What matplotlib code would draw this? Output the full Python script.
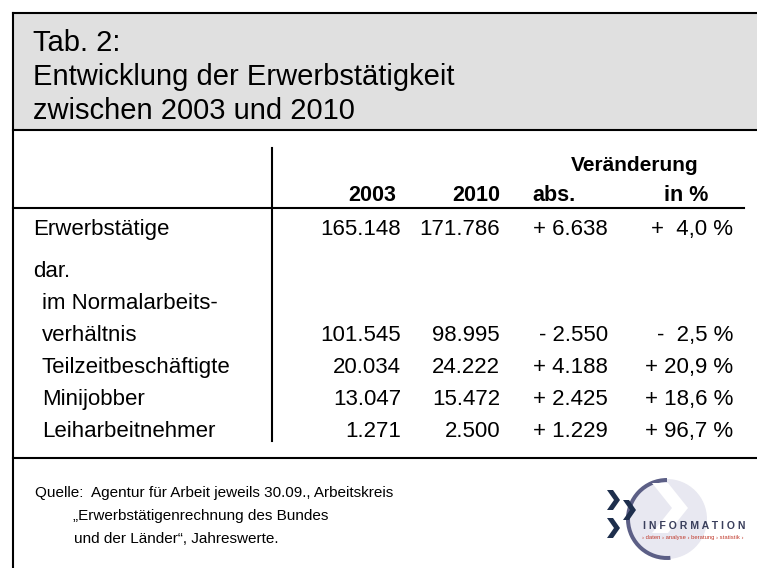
import matplotlib
matplotlib.use("Agg")
import matplotlib.pyplot as plt
from matplotlib.patches import Rectangle, Circle, Wedge, Polygon

# Table content
title_lines = ["Tab. 2:", "Entwicklung der Erwerbstätigkeit", "zwischen 2003 und 2010"]
col_headers = ["2003", "2010", "abs.", "in %"]
group_header = "Veränderung"
row_labels = ["Erwerbstätige", "dar.", "im Normalarbeits-", "verhältnis",
              "Teilzeitbeschäftigte", "Minijobber", "Leiharbeitnehmer"]
row_indent = [False, False, True, True, True, True, True]
values_2003 = ["165.148", "", "", "101.545", "20.034", "13.047", "1.271"]
values_2010 = ["171.786", "", "", "98.995", "24.222", "15.472", "2.500"]
change_abs = ["+ 6.638", "", "", "- 2.550", "+ 4.188", "+ 2.425", "+ 1.229"]
change_pct = ["+  4,0 %", "", "", "-  2,5 %", "+ 20,9 %", "+ 18,6 %", "+ 96,7 %"]
source_lines = ["Quelle:  Agentur für Arbeit jeweils 30.09., Arbeitskreis",
                "„Erwerbstätigenrechnung des Bundes",
                "und der Länder“, Jahreswerte."]

plt.rcParams['font.family'] = ['Liberation Sans', 'DejaVu Sans']

fig = plt.figure(figsize=(7.57, 5.68), dpi=100)
ax = fig.add_axes([0, 0, 1, 1])
ax.set_xlim(0, 757)
ax.set_ylim(568, 0)
ax.axis('off')

# frame and grey title band
ax.add_patch(Rectangle((13, 13), 760, 117, facecolor='#e0e0e0', edgecolor='none'))
ax.plot([13, 757], [13, 13], color='black', lw=1.5)
ax.plot([13, 13], [13, 568], color='black', lw=1.5)
ax.plot([13, 757], [130, 130], color='black', lw=1.5)
ax.plot([13, 757], [458, 458], color='black', lw=1.5)

for i, t in enumerate(title_lines):
    ax.text(33, 51 + 34 * i, t, fontsize=21, va='baseline', ha='left')

# table lines
ax.plot([272, 272], [148, 441], color='black', lw=1.5)
ax.plot([13, 744], [208, 208], color='black', lw=1.5)

# headers
ax.text(698, 171, group_header, fontsize=15, fontweight='bold', ha='right', va='baseline')
col_right = [396, 500, 576, 708]
for x, h in zip(col_right, col_headers):
    ax.text(x, 201, h, fontsize=15.5, fontweight='bold', ha='right', va='baseline')

# rows
baselines = [235, 277, 309, 341, 373, 405, 437]
data_right = [401, 500, 608, 733]
for i, lab in enumerate(row_labels):
    y = baselines[i]
    ax.text(42 if row_indent[i] else 33, y, lab, fontsize=16, ha='left', va='baseline')
    for x, col in zip(data_right, [values_2003, values_2010, change_abs, change_pct]):
        if col[i]:
            ax.text(x, y, col[i], fontsize=16, ha='right', va='baseline')

# source
src_x = [35, 73, 74]
src_y = [497, 520, 543]
for x, y, s in zip(src_x, src_y, source_lines):
    ax.text(x, y, s, fontsize=11, ha='left', va='baseline')

# logo
ax.add_patch(Circle((667, 519), 40, facecolor='#e8e8f1', edgecolor='none'))
ax.add_patch(Wedge((667, 519), 41, 85, 270, width=4, facecolor='#5c5f86', edgecolor='none'))
ax.add_patch(Polygon([[652, 483], [668, 483], [688, 508], [668, 533], [652, 533], [672, 508]],
                     closed=True, facecolor='white', edgecolor='none'))
for cx, cy in [(612, 500), (628, 510), (612, 528)]:
    ax.add_patch(Polygon([[cx - 5, cy - 10], [cx + 1, cy - 10], [cx + 8, cy], [cx + 1, cy + 10],
                          [cx - 5, cy + 10], [cx + 2, cy]], closed=True, facecolor='#1e2f4d',
                         edgecolor='none'))
ax.text(643, 529, "I N F O R M A T I O N", fontsize=7.6, color='#3a3f5c',
        fontweight='bold', ha='left', va='baseline')
ax.text(642, 539, "› daten › analyse › beratung › statistik ›", fontsize=4.2,
        color='#c0392b', ha='left', va='baseline')

fig.savefig("out.png", dpi=100)
